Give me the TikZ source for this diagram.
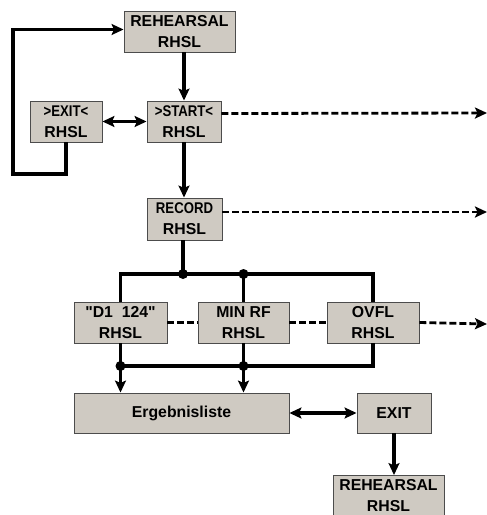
\documentclass[tikz,border=0pt]{standalone}
\usepackage{fontspec}
\setmainfont{Liberation Sans}
% box lettering without TeX quote ligatures, so " stays straight
\newfontfamily\boxfont{Liberation Sans}
\newfontfamily\condfont[FakeStretch=0.85]{Liberation Sans}
\usetikzlibrary{arrows.meta}
\newcommand\narrowline{\condfont\fontsize{15.5}{21}\selectfont\bfseries}
\begin{document}
\begin{tikzpicture}[x=1pt,y=-1pt,
  box/.style={draw=black!70, line width=0.9pt, fill=boxfill, inner sep=0pt,
    align=center, font=\boxfont\fontsize{15.8}{21}\selectfont\bfseries},
  flow/.style={line width=3.2pt, line cap=butt, line join=miter},
  tip/.style={-{Stealth[length=12pt,width=11pt,inset=2.5pt]}},
  both/.style={{Stealth[length=12pt,width=11pt,inset=2.5pt]}-{Stealth[length=12pt,width=11pt,inset=2.5pt]}},
  dashline/.style={line width=2.8pt, dash pattern=on 7pt off 3pt},
  dot/.style={circle, fill=black, inner sep=0pt, minimum size=10pt}]
\definecolor{boxfill}{HTML}{CFCAC2}
\useasboundingbox (0,0) rectangle (487,515);
\clip (0,0) rectangle (487,515);

% boxes
\node[box, minimum width=111pt, minimum height=41pt] (reh1) at (179.5,31.5) {REHEARSAL\\RHSL};
\node[box, minimum width=72pt, minimum height=41pt] (exitb) at (66,121.5) {{\narrowline >EXIT<}\\RHSL};
\node[box, minimum width=74pt, minimum height=41pt] (start) at (184,121.5) {{\narrowline >START<}\\RHSL};
\node[box, minimum width=75pt, minimum height=42pt] (record) at (184.5,219) {{\narrowline RECORD}\\RHSL};
\node[box, minimum width=93pt, minimum height=41pt] (d1) at (120.5,322.5) {"D1\ \ 124"\\RHSL};
\node[box, minimum width=91pt, minimum height=41pt] (minrf) at (243.5,322.5) {MIN RF\\RHSL};
\node[box, minimum width=92pt, minimum height=41pt] (ovfl) at (373,322.5) {OVFL\\RHSL};
\node[box, minimum width=215pt, minimum height=40pt] (erg) at (181.5,413) {Ergebnisliste};
\node[box, minimum width=74pt, minimum height=40pt] (exit2) at (394,413) {EXIT};
\node[box, minimum width=111pt, minimum height=41pt] (reh2) at (388.5,496) {REHEARSAL\\RHSL};

% helper points
\coordinate (loopc) at (13,174);
\coordinate (bt) at (183,274);
\coordinate (bb) at (244,366);
\coordinate (end1) at (487,113);
\coordinate (end2) at (487,212);
\coordinate (end3) at (487,324);

% upper chain
\draw[flow, tip] (reh1.south -| start.north) -- (start.north);
\draw[flow, both] (exitb.east) -- (start.west);
\draw[flow, tip] (exitb.south) |- (loopc) |- ([yshift=2pt]reh1.west);
\draw[flow, tip] (start.south) -- (record.north -| start.south);
\draw[dashline, tip] ([yshift=8pt]start.east) -- (end1);
\draw[dashline, tip] ([yshift=7pt]record.east) -- (end2);

% distribution bus above the result boxes
\draw[flow] (record.south -| bt) -- (bt);
\draw[flow] (d1.north) |- (bt) -| (ovfl.north);
\draw[flow] (minrf.north) -- (minrf.north |- bt);
\node[dot] (j1) at (bt) {};
\node[dot] (j2) at (minrf.north |- bt) {};

% dashed links between result boxes
\draw[dashline] (d1.east) -- (minrf.west);
\draw[dashline] (minrf.east) -- (ovfl.west);
\draw[dashline, tip] (ovfl.east) -- (end3);

% collecting bus below the result boxes
\draw[flow] (d1.south) |- (bb) -| (ovfl.south);
\draw[flow] (minrf.south) -- (minrf.south |- bb);
\node[dot] (j3) at (d1.south |- bb) {};
\node[dot] (j4) at (minrf.south |- bb) {};
\draw[flow, tip] (j3.center) -- (erg.north -| j3);
\draw[flow, tip] (j4.center) -- (erg.north -| j4);

% result list and exit
\draw[flow, both] (erg.east) -- (exit2.west);
\draw[flow, tip] (exit2.south) -- (reh2.north -| exit2.south);
\end{tikzpicture}
\end{document}
